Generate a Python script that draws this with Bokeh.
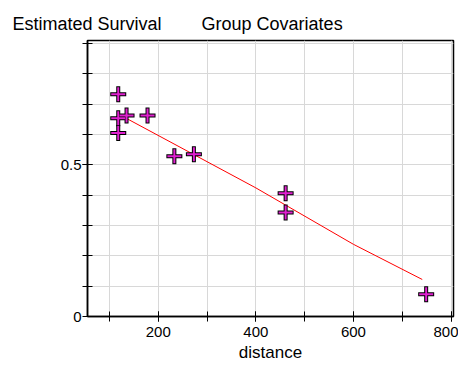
from bokeh.plotting import figure
from bokeh.models import FixedTicker, Range1d
from bokeh.embed import file_html
from bokeh.resources import INLINE

# Observed points
distance = [118, 118, 135, 178, 118, 233, 273, 461, 461, 749]
survival = [0.733, 0.654, 0.663, 0.663, 0.605, 0.528, 0.535, 0.406, 0.343, 0.073]

# Fitted line
fit_distance = [135, 400, 600, 741]
fit_survival = [0.653, 0.424, 0.238, 0.122]

x_major = [200, 400, 600, 800]
x_minor = [100, 200, 300, 400, 500, 600, 700, 800]
y_major = [0, 0.5]
y_minor = [0.1, 0.2, 0.3, 0.4, 0.5, 0.6, 0.7, 0.8, 0.9]

title_left = "Estimated Survival"
title_right = "Group Covariates"

FONT = "Liberation Sans"

p = figure(width=458, height=366, output_backend="svg", toolbar_location=None,
           x_range=Range1d(55, 805), y_range=Range1d(0, 0.91),
           min_border_left=87, min_border_right=5, min_border_top=40, min_border_bottom=50)
p.outline_line_color = "black"
p.outline_line_width = 1.5
p.background_fill_color = "white"
p.border_fill_color = "white"

p.title.text = title_left + "\u00a0" * 8 + title_right
p.title.text_font = FONT
p.title.text_font_size = "18px"
p.title.text_font_style = "normal"
p.title.text_color = "black"
p.title.align = "left"
p.title.offset = -75
p.title.standoff = 14

p.xaxis.ticker = FixedTicker(ticks=x_major, minor_ticks=x_minor)
p.yaxis.ticker = FixedTicker(ticks=y_major, minor_ticks=y_minor)
p.xgrid.ticker = FixedTicker(ticks=x_minor)
p.ygrid.ticker = FixedTicker(ticks=y_minor)
for g in (p.xgrid, p.ygrid):
    g.grid_line_color = "#d8d8d8"
    g.grid_line_width = 1

for ax in (p.xaxis, p.yaxis):
    ax.axis_line_color = "black"
    ax.axis_line_width = 1.5
    ax.major_tick_line_color = "black"
    ax.minor_tick_line_color = "black"
    ax.major_tick_in = 5
    ax.major_tick_out = 5
    ax.minor_tick_in = 5
    ax.minor_tick_out = 5
    ax.major_label_text_font = FONT
    ax.major_label_text_font_size = "15px"
    ax.major_label_text_color = "black"
    ax.axis_label_text_font = FONT
    ax.axis_label_text_font_style = "normal"
    ax.axis_label_text_font_size = "17px"
    ax.axis_label_text_color = "black"

p.xaxis.axis_label = "distance"
p.xaxis.axis_label_standoff = 3
p.xaxis.major_label_standoff = 5
p.yaxis.major_label_standoff = 1
p.yaxis.major_label_overrides = {0: "0", 0.5: "0.5"}

p.line(fit_distance, fit_survival, line_color="red", line_width=1)
p.scatter(distance, survival, marker="cross", size=16, line_color="black", line_width=4)
p.scatter(distance, survival, marker="cross", size=14, line_color="#e020d0", line_width=2)

open("out.html", "w").write(file_html(p, INLINE))
